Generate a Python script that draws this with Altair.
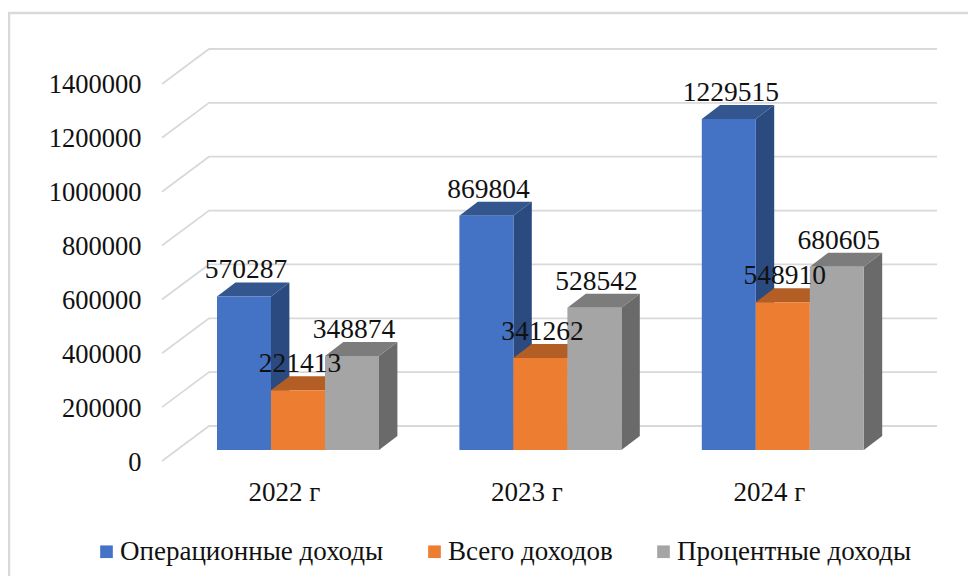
import altair as alt
import pandas as pd

categories = ["2022 г", "2023 г", "2024 г"]
series_names = ["Операционные доходы", "Всего доходов", "Процентные доходы"]
operating = [570287, 869804, 1229515]
total = [221413, 341262, 548910]
interest = [348874, 528542, 680605]
y_ticks = [0, 200000, 400000, 600000, 800000, 1000000, 1200000, 1400000]

front_colors = ["#4472C4", "#ED7D31", "#A5A5A5"]
side_colors = ["#2A4A80", "#B05A22", "#6A6A6A"]
top_colors = ["#33568F", "#B25E25", "#7C7C7C"]

W, H = 960, 568
PX_PER_CAT = 242.4
PX_PER_VAL = 53.86 / 200000
x_domain = [(8 - 298) / PX_PER_CAT, (8 + W - 298) / PX_PER_CAT]
y_domain = [(450 - 8 - H) / PX_PER_VAL, (450 - 8) / PX_PER_VAL]
BAR_W = 54 / PX_PER_CAT
DX = 18.4 / PX_PER_CAT
DY = 14 / PX_PER_VAL
FONT = "Liberation Serif"

xs = alt.Scale(domain=x_domain, nice=False, zero=False)
ys = alt.Scale(domain=y_domain, nice=False, zero=False)

x_axis = alt.Axis(
    values=[0, 1, 2], orient="bottom", grid=False, domain=False, ticks=False,
    labelExpr="['" + "','".join(categories) + "'][datum.value]",
    labelFont=FONT, labelFontSize=27, labelColor="#111111", labelPadding=0,
    labelOffset=-14, offset=-(576 - 479), labelBaseline="top", labelAngle=0, title=None,
)
y_axis = alt.Axis(
    values=y_ticks, orient="left", grid=False, domain=False, ticks=False,
    labelFont=FONT, labelFontSize=26.5, labelColor="#111111", labelPadding=0,
    labelOffset=12, offset=-133, format="d", labelAlign="right", labelBaseline="middle", title=None,
)


def X(f="x"):
    return alt.X(f"{f}:Q", scale=xs, axis=x_axis, stack=None)


def Y(f="y"):
    return alt.Y(f"{f}:Q", scale=ys, axis=y_axis, stack=None)


# picture frame, given in page pixels and mapped to the scales
def px(p):
    return (p - 298) / PX_PER_CAT


def py(p):
    return (450 - p) / PX_PER_VAL


frame_rows = [
    {"x": px(9), "y": py(576), "o": 0},
    {"x": px(9), "y": py(13), "o": 1},
    {"x": px(968), "y": py(13), "o": 2},
]
frame = alt.Chart(pd.DataFrame(frame_rows)).mark_line(color="#D9D9D9", strokeWidth=2.5).encode(
    x=X(), y=Y(), order="o:Q"
)

# wall gridlines
grid_rows = []
for t in y_ticks:
    grid_rows += [
        {"t": t, "x": px(162), "y": t - 11 / PX_PER_VAL, "o": 0},
        {"t": t, "x": px(209), "y": t + 24 / PX_PER_VAL, "o": 1},
        {"t": t, "x": px(937), "y": t + 24 / PX_PER_VAL, "o": 2},
    ]
grid = alt.Chart(pd.DataFrame(grid_rows)).mark_line(color="#D9D9D9", strokeWidth=1.8).encode(
    x=X(), y=Y(), detail="t:N", order="o:Q"
)

color = alt.Color(
    "series:N",
    scale=alt.Scale(domain=series_names, range=front_colors),
    sort=series_names,
    legend=alt.Legend(
        title=None, orient="none", direction="horizontal", legendX=85, legendY=530,
        padding=0, symbolType="square", symbolSize=160, symbolStrokeWidth=0, labelFont=FONT,
        labelFontSize=27, labelColor="#111111", columnPadding=37, labelOffset=0,
        labelLimit=400, values=series_names, columns=3,
    ),
)

layers = [frame, grid]
for s, (name, vals) in enumerate(zip(series_names, [operating, total, interest])):
    side_rows, top_rows, front_rows = [], [], []
    for i, v in enumerate(vals):
        left = i - 1.5 * BAR_W + s * BAR_W
        right = left + BAR_W
        side_rows += [
            {"c": i, "x": right, "y": 0, "y2": v},
            {"c": i, "x": right + DX, "y": DY, "y2": v + DY},
        ]
        top_rows += [
            {"c": i, "x": left, "x2": right, "y": v},
            {"c": i, "x": left + DX, "x2": right + DX, "y": v + DY},
        ]
        front_rows.append({"series": name, "x": left, "x2": right, "y": 0, "y2": v})
    layers.append(
        alt.Chart(pd.DataFrame(side_rows)).mark_area(color=side_colors[s], orient="vertical", opacity=1).encode(
            x=X(), y=Y(), y2=alt.Y2("y2:Q"), detail="c:N"
        )
    )
    layers.append(
        alt.Chart(pd.DataFrame(top_rows)).mark_area(color=top_colors[s], orient="horizontal", opacity=1).encode(
            x=X(), x2=alt.X2("x2:Q"), y=Y(), detail="c:N"
        )
    )
    layers.append(
        alt.Chart(pd.DataFrame(front_rows)).mark_rect(strokeWidth=0).encode(
            x=X(), x2=alt.X2("x2:Q"), y=Y(), y2=alt.Y2("y2:Q"), color=color
        )
    )

label_rows = []
for s, vals in enumerate([operating, total, interest]):
    for i, v in enumerate(vals):
        label_rows.append({"x": i - BAR_W + s * BAR_W, "y": v, "t": str(v)})
labels = alt.Chart(pd.DataFrame(label_rows)).mark_text(
    font=FONT, fontSize=27.5, color="#111111", dy=-26, dx=2, baseline="middle", align="center"
).encode(x=X(), y=Y(), text="t:N")
layers.append(labels)

chart = alt.layer(*layers).properties(
    width=W, height=H, padding=0,
    autosize=alt.AutoSizeParams(type="none"),
    background="#FFFFFF",
).configure_view(stroke=None)

chart.save("out.html", embed_options={"renderer": "svg", "actions": False})
